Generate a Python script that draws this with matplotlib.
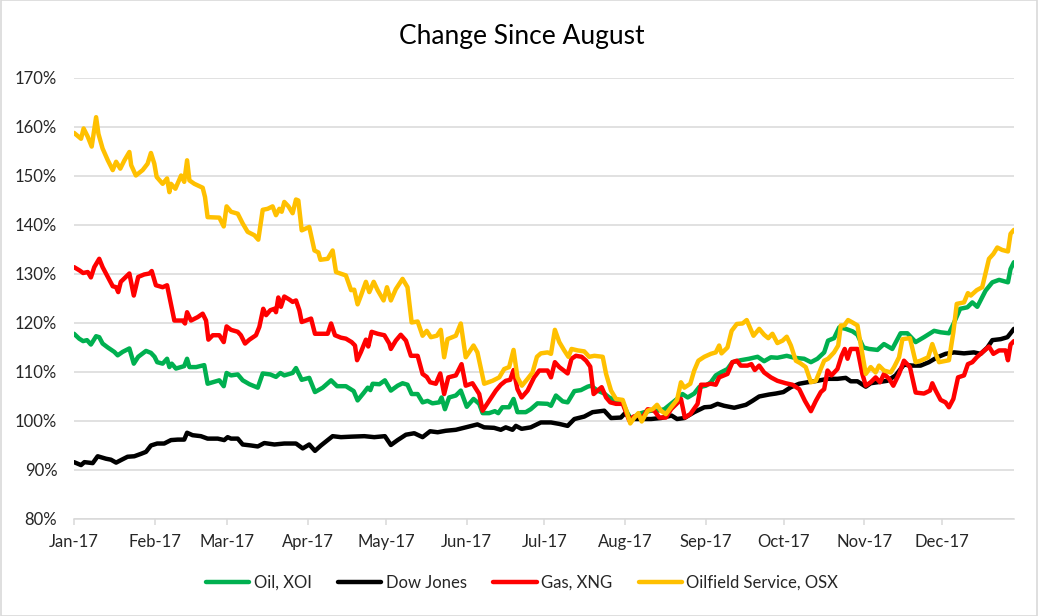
import numpy as np
import matplotlib
matplotlib.use('Agg')
import matplotlib.pyplot as plt
import matplotlib.dates as mdates
from matplotlib.patches import Rectangle
from matplotlib.ticker import FuncFormatter, MultipleLocator

# ── Datos (día del año desde 1-ene-2017, % respecto a agosto) ──
oil_days = [0, 2, 3.5, 5, 6.5, 8.5, 9.7, 11, 13, 15.5, 16.8, 18.7, 21.3, 23, 24.7, 27.7,
            29.6, 31, 32, 34.1, 35.8, 36.7, 37.6, 39.2, 42.4, 43.5, 44.4, 47, 50.1, 51.4,
            55.9, 57.6, 58.7, 60.4, 63, 64.9, 67.5, 70.7, 72.6, 75.5, 77.7, 79.4, 80.9,
            84.1, 85.4, 87.6, 90.5, 92.7, 95.7, 98.9, 101.2, 104.6, 107.6, 109.1, 111.4,
            113, 114, 114.9, 117.5, 119.6, 121.9, 124.5, 126.4, 128.3, 129.9, 132.2, 134.1,
            136, 137.9, 140.5, 141.4, 142.7, 144.3, 146.9, 148.8, 151.1, 153.7, 155.9,
            157.2, 159.7, 161.9, 163.2, 164.8, 167.4, 169.1, 170.6, 173.8, 175.7, 178.3,
            182.2, 183.5, 185.4, 188, 189.9, 192.5, 195, 197.6, 198.9, 201.4, 204, 205.9,
            208.5, 211.1, 212.7, 214.3, 217.1, 219.4, 222, 224.5, 227.1, 229.7, 232, 234.1,
            236.1, 238.6, 240.5, 243.1, 245, 246.9, 248.8, 251.4, 253.3, 256.5, 259.7, 263,
            265.5, 268.1, 270.6, 274.2, 277.1, 280.9, 283.5, 286, 288.6, 290.1, 292.4,
            294.4, 296.9, 299.5, 301.4, 303.7, 305.9, 309.1, 311.6, 314.8, 318, 320.6,
            323.8, 327, 330.9, 333.4, 336.6, 338.6, 340.9, 343.7, 345.6, 347.5, 350.7,
            353.3, 355.9, 359.3, 360.3, 361.6]
oil_vals = [117.8, 116.8, 116.3, 116.5, 115.6, 117.3, 117.1, 115.8, 115.0, 114.1, 113.4,
            114.1, 114.8, 111.7, 113.1, 114.3, 113.9, 113.1, 112.0, 111.7, 112.7, 111.0,
            111.7, 110.7, 111.2, 112.7, 111.0, 111.0, 111.4, 107.6, 108.3, 107.1, 109.8,
            109.3, 109.5, 108.3, 107.5, 106.8, 109.7, 109.5, 109.0, 109.8, 109.3, 109.8,
            110.8, 108.4, 108.8, 105.9, 106.8, 108.3, 107.1, 107.1, 106.1, 104.2, 105.7,
            106.8, 106.3, 107.6, 107.5, 108.3, 106.2, 107.2, 107.7, 107.4, 105.5, 105.5,
            103.8, 104.1, 103.6, 103.8, 104.8, 102.4, 104.8, 105.2, 106.2, 102.9, 104.5,
            103.5, 101.6, 101.6, 102.0, 101.6, 102.8, 102.8, 104.5, 101.8, 101.8, 102.4,
            103.6, 103.5, 103.1, 105.2, 104.0, 103.8, 106.1, 106.3, 107.0, 107.2, 106.2,
            105.6, 104.8, 104.1, 103.8, 101.8, 100.4, 101.4, 101.8, 102.1, 102.1, 102.4,
            103.5, 104.5, 105.5, 104.8, 105.6, 106.9, 107.2, 107.9, 109.3, 109.9, 110.6,
            112.0, 112.4, 112.7, 113.1, 112.2, 113.0, 112.9, 113.3, 112.9, 112.7, 112.0,
            112.7, 114.0, 116.4, 116.9, 119.1, 118.8, 118.3, 117.6, 115.0, 114.7, 114.5,
            115.7, 114.7, 117.9, 117.9, 116.1, 117.1, 118.4, 118.1, 117.9, 120.1, 122.9,
            123.2, 124.2, 123.3, 126.6, 128.3, 128.8, 128.3, 131.0, 132.4]

dow_days = [0, 2.7, 4, 7.2, 9.1, 12.3, 14.2, 16.2, 18, 20.6, 23.2, 25.8, 27.7, 29.6, 32,
            34.7, 37.3, 39.9, 42.4, 43.5, 45.6, 48.8, 51.4, 55.3, 57.8, 59.1, 60.4, 63,
            64.9, 68.1, 70.7, 73.2, 77.1, 80.9, 85.4, 88, 90.5, 92.7, 95, 97.6, 99.5, 102.7,
            106.6, 111.7, 115.5, 119.6, 121.9, 124.5, 127.7, 130.9, 134.1, 137, 139.9, 143,
            146.9, 150.7, 155.2, 157.8, 161.6, 164.2, 166.1, 168.7, 170, 172.2, 175.7, 179.6,
            183.5, 186.7, 189.9, 192.5, 196.3, 199.5, 204, 206.6, 210.4, 212, 214.3, 218.1,
            222, 225.8, 229.9, 232, 234.8, 238.6, 242.5, 245, 247.6, 250.1, 254, 258.5, 261,
            263.6, 267.4, 270, 272.9, 275.8, 279, 282.2, 286, 289.9, 293.7, 296.9, 298.8,
            301.4, 304.6, 306.5, 309, 312.9, 316.1, 319.3, 322.5, 325.7, 328.9, 332.1, 335.3,
            338.6, 342.4, 346.2, 348.8, 351.4, 353.3, 356.5, 359.1, 360.3, 361.6]
dow_vals = [91.6, 91.0, 91.6, 91.4, 92.8, 92.3, 92.1, 91.5, 92.0, 92.7, 92.8, 93.3, 93.7,
            95.0, 95.4, 95.4, 96.1, 96.2, 96.2, 97.6, 97.1, 96.9, 96.4, 96.4, 96.1, 96.7,
            96.4, 96.4, 95.2, 95.0, 94.8, 95.5, 95.2, 95.4, 95.4, 94.4, 95.2, 93.9, 95.0,
            96.1, 96.9, 96.7, 96.8, 96.9, 96.7, 96.9, 95.1, 96.1, 97.2, 97.5, 96.7, 97.9,
            97.7, 98.0, 98.2, 98.7, 99.3, 98.7, 98.6, 98.2, 98.7, 98.2, 99.0, 98.4, 98.7,
            99.7, 99.7, 99.4, 99.0, 100.4, 100.9, 101.8, 102.1, 100.6, 100.7, 101.6, 100.4,
            100.4, 100.4, 100.6, 101.1, 100.4, 100.6, 101.8, 102.8, 102.9, 103.5, 103.1,
            102.7, 103.3, 104.1, 105.0, 105.4, 105.6, 105.9, 106.9, 107.6, 107.9, 108.2,
            108.6, 108.6, 108.8, 108.1, 108.1, 107.0, 107.7, 107.9, 108.2, 109.3, 111.5,
            111.3, 111.3, 112.0, 113.0, 113.7, 114.0, 113.8, 114.0, 113.7, 115.0, 116.5,
            116.7, 117.1, 117.9, 118.8]

gas_days = [0, 2.2, 3.5, 5.3, 6.5, 7.8, 9.7, 11, 13, 14.9, 16.2, 17, 18, 21.3, 23, 24.7, 27,
            29, 29.9, 31.5, 34.1, 35.8, 37.3, 38.6, 41.8, 42.7, 43.5, 45, 47.6, 49.5, 50.8,
            51.7, 53.4, 55.9, 57.6, 58.7, 60.4, 63, 64.2, 65.8, 67.5, 70, 71.3, 72.8, 73.9,
            75.5, 77.1, 77.7, 78.6, 79.6, 80.9, 82.8, 84.1, 85.4, 86.7, 87.6, 89.2, 91.2,
            92.7, 95, 97.6, 98.9, 100.4, 102.7, 104.6, 106.8, 108.1, 108.9, 110.4, 112.3,
            113.2, 114.5, 116.8, 119.4, 121.3, 121.9, 123.8, 125.7, 127.7, 129.6, 132.2,
            134.1, 135.7, 137, 139.2, 140.9, 142.4, 144, 146.9, 149.1, 150.7, 153.3, 155.9,
            157.2, 159.7, 162.3, 164.2, 166.1, 167.8, 169.1, 170.6, 172.2, 174.5, 177, 179,
            182.2, 183.5, 185, 186.7, 189.9, 191.4, 193.1, 195.3, 197, 198.6, 199.9, 201.4,
            203, 204.7, 206.3, 208.5, 211.1, 213.6, 215.3, 217.1, 218.8, 220.7, 223.2,
            225.2, 227.7, 229.7, 232, 233.5, 235, 237.1, 239.9, 241.2, 243.1, 245, 246.9,
            248.2, 251.4, 253.3, 255, 256.5, 259.1, 260.6, 261.9, 263.6, 265.5, 268.1,
            270.6, 273.8, 276.4, 279, 281.2, 283.5, 285.4, 287.3, 288.6, 289.9, 291.4,
            293.7, 295.3, 296.5, 297.6, 298.8, 301.4, 303.3, 304.6, 306.5, 308.4, 310.1,
            311.6, 313.6, 315.2, 317.4, 319.3, 321.6, 323.8, 327, 329.3, 330.2, 331.5,
            333.4, 335.3, 336.6, 338.3, 340.1, 342.4, 343.9, 345.6, 347.3, 349.4, 352,
            353.7, 355.9, 358.4, 359.3, 360.3, 361.6]
gas_vals = [131.4, 130.7, 130.2, 130.4, 129.3, 131.4, 133.1, 131.4, 129.4, 127.5, 127.3,
            126.3, 128.4, 130.1, 125.6, 129.4, 129.9, 130.1, 130.6, 127.7, 127.3, 127.7,
            123.9, 120.5, 120.5, 119.9, 122.2, 120.5, 121.2, 121.9, 120.5, 116.6, 117.5,
            117.5, 116.1, 119.3, 118.6, 118.2, 117.5, 115.8, 116.6, 117.5, 119.2, 122.9,
            121.6, 122.6, 122.9, 122.2, 125.2, 123.3, 125.4, 124.8, 124.3, 124.6, 122.6,
            120.2, 120.5, 120.9, 117.8, 117.8, 117.8, 119.9, 117.5, 117.0, 116.8, 116.1,
            115.4, 112.4, 114.1, 116.6, 115.2, 118.2, 117.8, 117.5, 115.8, 114.7, 116.4,
            117.6, 116.4, 113.3, 113.3, 109.6, 109.0, 107.9, 107.6, 109.7, 105.5, 108.9,
            109.3, 111.6, 107.2, 107.7, 105.5, 102.1, 104.1, 106.2, 107.4, 108.2, 108.4,
            110.4, 106.5, 104.8, 106.2, 108.9, 110.3, 110.3, 108.9, 112.0, 111.0, 109.7,
            112.7, 113.3, 113.1, 112.3, 111.1, 105.5, 106.2, 106.9, 104.8, 103.8, 103.5,
            103.5, 100.1, 100.9, 101.1, 100.7, 102.4, 102.1, 100.7, 100.7, 102.4, 103.6,
            104.5, 100.7, 101.4, 103.5, 107.4, 107.4, 107.6, 107.4, 108.9, 109.6, 112.0,
            112.3, 111.3, 111.3, 111.6, 110.4, 111.3, 109.9, 108.9, 108.2, 107.7, 107.4,
            106.5, 104.1, 102.0, 104.1, 105.9, 106.5, 110.3, 109.3, 110.6, 113.3, 114.7,
            112.7, 114.7, 114.7, 109.6, 107.2, 107.9, 108.9, 107.9, 109.6, 108.6, 107.2,
            109.6, 112.3, 111.0, 105.8, 105.6, 106.2, 107.7, 106.2, 104.3, 103.8, 102.8,
            104.5, 108.9, 109.3, 111.6, 112.0, 113.0, 114.0, 115.2, 113.7, 114.4, 114.4,
            112.4, 115.6, 116.3]

osx_days = [0, 2.7, 3.7, 5.3, 6.8, 8.5, 9.4, 11, 13, 14.9, 16.2, 17.8, 19.4, 21.3, 22,
            23.8, 26.4, 28.3, 29.6, 30.9, 31.8, 34.1, 35.8, 36.7, 37.3, 39, 41.2, 42.4,
            43.5, 44.4, 46.3, 49.5, 50.4, 51.4, 55.9, 57.6, 58.7, 60.4, 63, 64.9, 66.8,
            69.4, 70.9, 72.6, 74.5, 76.4, 77.7, 79, 79.9, 80.9, 82.5, 84.1, 85.4, 86.3,
            87.6, 90.5, 92.5, 94, 94.8, 97.6, 99.5, 100.8, 104.6, 106.6, 107.8, 109.1,
            110.4, 112.3, 113.6, 115.3, 116.8, 119.1, 120.4, 121.9, 123.8, 126.4, 128.3,
            129.9, 132.2, 134.1, 135.7, 137.3, 139.6, 141.1, 142.4, 143.7, 146.9, 148.8,
            150.7, 153.7, 155.2, 157.8, 161, 163.6, 165.5, 167.4, 169.1, 170.6, 172.3,
            174.5, 176.4, 178.1, 179.6, 182.2, 183.5, 185, 186.7, 188.6, 190.2, 191.4,
            193.8, 196.3, 198.2, 200.2, 203.4, 204.7, 206.6, 208.5, 211.1, 212.7, 214,
            215.6, 217.1, 218.4, 220.7, 222.6, 224.3, 225.8, 227.7, 229.7, 232, 233.5,
            234.8, 237.1, 238.6, 240.2, 242.5, 245, 246.9, 248.2, 249.1, 251.4, 253, 255,
            257.2, 258.8, 260.1, 261.4, 263.6, 265.5, 267.1, 268.7, 270.6, 272.6, 274.2,
            275.8, 277.7, 279.4, 281.5, 283.5, 285.4, 287.3, 288.6, 290.1, 292.4, 294, 295,
            296.3, 297.8, 299.5, 301.4, 303.3, 304.6, 306.5, 308.4, 309.7, 311.6, 314.2,
            315.5, 317.4, 318.7, 321.6, 323.8, 325.7, 328.6, 330.2, 331.5, 332.8, 336.6,
            338.3, 339.6, 342.4, 343.9, 345, 347.3, 349.4, 352, 353.7, 355.2, 357.1, 359.3,
            360.3, 361.6]
osx_vals = [158.8, 157.6, 159.7, 158.0, 156.0, 162.0, 158.6, 155.6, 153.2, 151.2, 152.9,
            151.5, 153.2, 154.9, 152.2, 150.1, 151.2, 152.5, 154.7, 152.5, 149.8, 148.4,
            149.5, 146.7, 148.4, 147.4, 150.1, 148.8, 153.2, 149.1, 148.4, 147.6, 145.7,
            141.6, 141.5, 139.7, 143.8, 142.7, 142.3, 140.3, 138.6, 137.9, 137.0, 143.1,
            143.3, 143.8, 142.0, 143.3, 142.7, 144.7, 143.8, 142.4, 145.2, 145.0, 138.9,
            139.6, 134.8, 134.4, 132.9, 133.1, 134.8, 130.4, 129.7, 126.7, 126.8, 123.8,
            125.6, 128.4, 126.3, 128.4, 126.7, 124.6, 127.3, 124.6, 126.9, 129.0, 127.3,
            120.1, 120.3, 117.4, 118.4, 117.1, 117.4, 118.6, 113.0, 116.7, 117.4, 119.9,
            113.0, 115.4, 114.0, 107.6, 108.2, 108.9, 110.6, 111.0, 114.5, 108.9, 107.2,
            108.6, 109.9, 113.1, 113.8, 114.0, 113.7, 118.6, 116.1, 114.4, 113.1, 114.7,
            114.4, 114.2, 113.1, 113.3, 113.1, 109.6, 106.2, 104.5, 104.3, 101.8, 99.5,
            100.7, 101.6, 99.9, 102.1, 102.4, 103.3, 102.1, 101.4, 102.8, 104.3, 107.9,
            106.8, 107.6, 110.3, 112.3, 113.1, 113.7, 114.0, 115.4, 113.8, 115.0, 118.4,
            119.8, 119.9, 120.6, 119.0, 117.4, 118.8, 117.6, 116.9, 117.8, 115.9, 116.4,
            117.2, 115.4, 112.3, 111.8, 111.0, 107.9, 108.2, 110.6, 112.3, 112.7, 114.0,
            115.4, 119.5, 119.5, 120.6, 120.1, 119.5, 113.7, 109.6, 111.0, 109.9, 111.3,
            110.3, 109.9, 111.0, 113.0, 116.7, 116.9, 112.0, 112.3, 113.0, 115.7, 113.7,
            112.0, 112.4, 118.1, 123.9, 124.2, 126.1, 125.6, 126.7, 127.3, 133.1, 134.1,
            135.4, 134.9, 134.6, 138.2, 139.0]

SERIES = [
    ('Oil, XOI', oil_days, oil_vals, '#00B050'),
    ('Dow Jones', dow_days, dow_vals, '#000000'),
    ('Gas, XNG', gas_days, gas_vals, '#FF0000'),
    ('Oilfield Service, OSX', osx_days, osx_vals, '#FFC000'),
]

plt.rcParams['font.family'] = ['Lato', 'DejaVu Sans']
GRID = '#D9D9D9'
TXT = '#262626'
LW = 3.2

base = mdates.date2num(np.datetime64('2017-01-01'))

fig = plt.figure(figsize=(10.38, 6.16), dpi=100)
ax = fig.add_axes([0.0713, 0.1575, 0.9055, 0.7159])

for label, d, v, c in SERIES:
    ax.plot(base + np.array(d), v, color=c, lw=LW, label=label,
            solid_joinstyle='round', solid_capstyle='round')

ax.set_xlim(base, base + 361.6)
ax.set_ylim(80, 170)
ax.yaxis.set_major_locator(MultipleLocator(10))
ax.yaxis.set_major_formatter(FuncFormatter(lambda v, p: f'{v:.0f}%'))
ax.xaxis.set_major_locator(mdates.MonthLocator())
ax.xaxis.set_major_formatter(mdates.DateFormatter('%b-%y'))

ax.grid(axis='y', color=GRID, lw=1.1)
ax.set_axisbelow(True)
for s in ['top', 'right', 'left']:
    ax.spines[s].set_visible(False)
ax.spines['bottom'].set_color(GRID)
ax.spines['bottom'].set_linewidth(1.1)
ax.tick_params(axis='y', length=0, pad=12, labelsize=12, labelcolor=TXT)
ax.tick_params(axis='x', length=4, width=1.1, color=GRID, pad=7,
               labelsize=12, labelcolor=TXT)

fig.text(0.503, 0.941, 'Change Since August', ha='center', va='center',
         fontsize=19, color='black')

fig.legend(loc='center', bbox_to_anchor=(0.503, 0.0536), ncol=4, frameon=False,
           fontsize=12, handlelength=2.6, handletextpad=0.25, columnspacing=1.6,
           labelcolor=TXT)

fig.patches.append(Rectangle((0.0005, 0.0008), 0.999, 0.9984, transform=fig.transFigure,
                             fill=False, edgecolor=GRID, lw=1.2))

fig.savefig('out.png', dpi=100)
